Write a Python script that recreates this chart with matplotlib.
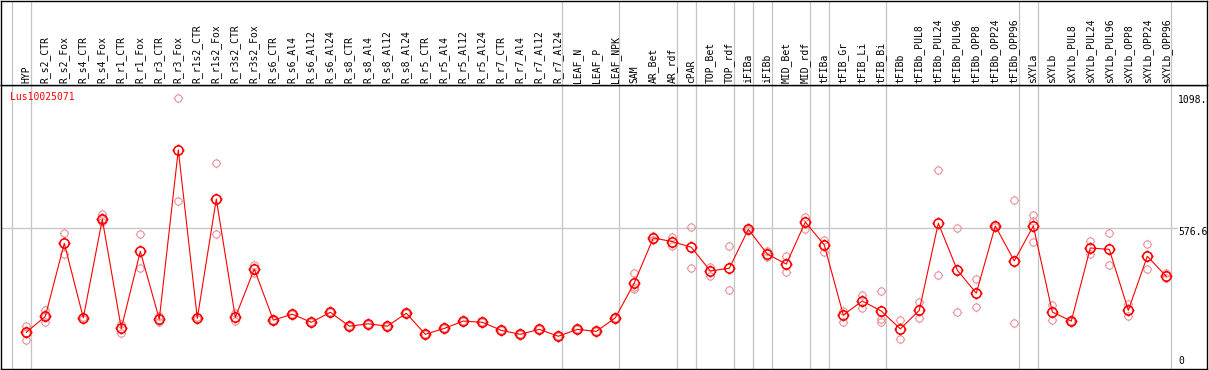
import numpy as np
import matplotlib
matplotlib.use("Agg")
import matplotlib.pyplot as plt
from matplotlib.path import Path

# ---------------- data ----------------
gene_id = "Lus10025071"

samples = [
    "HYP", "R_s2_CTR", "R_s2_Fox", "R_s4_CTR", "R_s4_Fox", "R_r1_CTR", "R_r1_Fox",
    "R_r3_CTR", "R_r3_Fox", "R_r1s2_CTR", "R_r1s2_Fox", "R_r3s2_CTR", "R_r3s2_Fox",
    "R_s6_CTR", "R_s6_Al4", "R_s6_Al12", "R_s6_Al24", "R_s8_CTR", "R_s8_Al4",
    "R_s8_Al12", "R_s8_Al24", "R_r5_CTR", "R_r5_Al4", "R_r5_Al12", "R_r5_Al24",
    "R_r7_CTR", "R_r7_Al4", "R_r7_Al12", "R_r7_Al24", "LEAF_N", "LEAF_P", "LEAF_NPK",
    "SAM", "AR_Bet", "AR_rdf", "cPAR", "TOP_Bet", "TOP_rdf", "iFIBa", "iFIBb",
    "MID_Bet", "MID_rdf", "tFIBa", "tFIB_Gr", "tFIB_Li", "tFIB_Bi", "tFIBb",
    "tFIBb_PUL8", "tFIBb_PUL24", "tFIBb_PUL96", "tFIBb_OPP8", "tFIBb_OPP24",
    "tFIBb_OPP96", "sXYLa", "sXYLb", "sXYLb_PUL8", "sXYLb_PUL24", "sXYLb_PUL96",
    "sXYLb_OPP8", "sXYLb_OPP24", "sXYLb_OPP96",
]

means = [
    150, 215, 514, 209, 612, 166, 481, 204, 896, 207, 695, 211, 409,
    200, 224, 191, 232, 175, 185, 175, 228, 142, 166, 196, 191,
    158, 142, 162, 134, 162, 154, 209,
    352, 536, 521, 498, 401, 412, 571, 470, 429, 601, 507, 221, 278, 237, 164,
    240, 596, 404, 310, 585, 442, 585, 233, 196, 495, 489, 240, 461, 379,
]

replicates = [
    [176, 147, 117], [242, 217, 193], [555, 469], [205, 213], [634, 612, 601],
    [184, 148], [551, 412], [217, 193], [1107, 686], [203, 211], [841, 551],
    [228, 198], [424, 394],
    [200, 200], [224, 224], [191, 191], [232, 232], [175, 175], [185, 185],
    [175, 175], [228, 228], [142, 142], [166, 166], [196, 196], [191, 191],
    [158, 158], [142, 142], [162, 162], [134, 134], [162, 162], [154, 154],
    [209, 209],
    [391, 337, 328], [545, 528], [541, 504], [581, 412], [418, 380], [503, 322],
    [575, 567], [481, 457], [462, 395], [623, 574], [529, 480], [237, 191],
    [303, 248], [319, 203, 191], [200, 121],
    [274, 210], [812, 383], [575, 232], [367, 252], [590, 580], [690, 188],
    [630, 606, 518], [262, 200], [196, 196], [522, 470], [555, 424], [267, 218],
    [511, 408], [391, 371],
]

# group separators: a divider is drawn after these sample indices (-1 = before first)
separators_after = [-1, 0, 28, 31, 34, 35, 37, 38, 39, 41, 42, 45, 52, 53, 60]

ref_value = 576.6
max_label = "1098."
mid_label = "576.6"
zero_label = "0"

# ---------------- figure ----------------
W, H, DPI = 1209, 370, 100
fig = plt.figure(figsize=(W / DPI, H / DPI), dpi=DPI)
fig.patch.set_facecolor("white")

mono = "DejaVu Sans Mono"
fs = 7.0

header_px = 85
plot_bottom_px = 369
left_px, right_px = 1, 1207

ax = fig.add_axes([left_px / W, (H - plot_bottom_px) / H,
                   (right_px - left_px) / W, (plot_bottom_px - header_px) / H])
axh = fig.add_axes([left_px / W, (H - header_px) / H,
                    (right_px - left_px) / W, (header_px - 0.5) / H], sharex=ax)

n = len(samples)
x = np.arange(n)
x0_px, step_px = 26.3, 19.0
ax.set_xlim((left_px - x0_px) / step_px, (right_px - x0_px) / step_px)
units_per_px = ref_value / (plot_bottom_px - 228)
ax.set_ylim(0, (plot_bottom_px - header_px) * units_per_px)
axh.set_ylim(0, 1)

for a in (ax, axh):
    a.set_xticks([])
    a.set_yticks([])
    for s in a.spines.values():
        s.set_color("black")
        s.set_linewidth(1.0)

grid_c = "#c4c4c4"
sep_off = 4.2 / step_px
for s in separators_after:
    ax.axvline(s + sep_off, color=grid_c, lw=0.9, zorder=0)
    axh.axvline(s + sep_off, color=grid_c, lw=0.9, zorder=0)

xr_end = (1177 - x0_px) / step_px
ax.plot([ax.get_xlim()[0], xr_end], [ref_value, ref_value], color=grid_c, lw=0.9, zorder=0)

# custom crosshair-circle marker
circ = Path.unit_circle()
ticks = Path([(0, 1.0), (0, 1.3), (0, -1.0), (0, -1.3),
              (1.0, 0), (1.3, 0), (-1.0, 0), (-1.3, 0)],
             [Path.MOVETO, Path.LINETO] * 4)
marker = Path.make_compound_path(circ, ticks)

rep_c = "#e8949c"
for i, reps in enumerate(replicates):
    ax.plot([i] * len(reps), reps, linestyle="none", marker=marker, markersize=6.8,
            markerfacecolor="none", markeredgecolor=rep_c, markeredgewidth=0.8, zorder=2)

ax.plot(x, means, color="#ff0000", lw=0.8, zorder=3)
ax.plot(x, means, linestyle="none", marker=marker, markersize=8.6,
        markerfacecolor="none", markeredgecolor="#ff0000", markeredgewidth=1.15, zorder=4)

for i, lab in enumerate(samples):
    axh.text(i, 2.5 / header_px, lab, rotation=90, ha="center", va="bottom",
             fontsize=fs, family=mono, color="black")

ax.text(9 / (right_px - left_px), 1 - (97 - header_px) / (plot_bottom_px - header_px),
        gene_id, transform=ax.transAxes, color="#ff0000", fontsize=fs, family=mono,
        ha="left", va="center")

xl = (1178 - x0_px) / step_px
ax.text(xl, 1098, max_label, fontsize=fs, family=mono, ha="left", va="center",
        color="black", clip_on=True)
ax.text(xl, ref_value - 4 * units_per_px, mid_label, fontsize=fs, family=mono,
        ha="left", va="center", color="black", clip_on=True)
ax.text(xl, 7.5 * units_per_px, zero_label, fontsize=fs, family=mono, ha="left",
        va="center", color="black", clip_on=True)

fig.savefig("out.png", dpi=DPI, facecolor="white")
